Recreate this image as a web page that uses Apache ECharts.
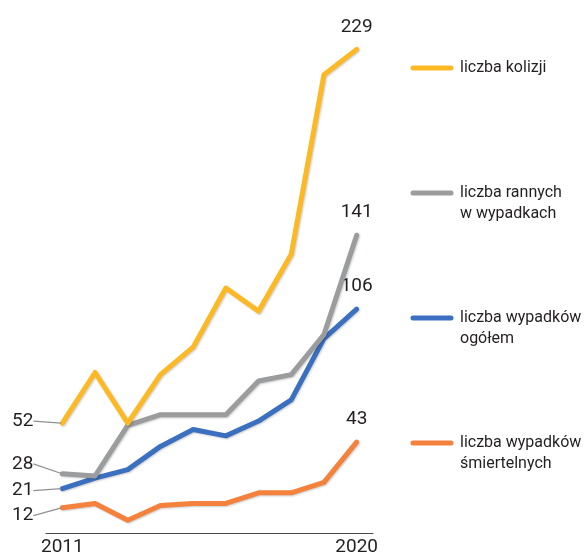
<!DOCTYPE html>
<html>
<head>
<meta charset="utf-8">
<script src="https://cdn.jsdelivr.net/npm/echarts@6/dist/echarts.min.js"></script>
<style>
  html, body { margin: 0; padding: 0; background: #fff; }
</style>
</head>
<body>
<div id="chart" style="width:588px;height:557px"></div>
<script>
  var FONT = 'Roboto, "Liberation Sans", sans-serif';

  var years = [2011, 2012, 2013, 2014, 2015, 2016, 2017, 2018, 2019, 2020];
  var kolizje = [52, 76, 52, 75, 88, 116, 105, 132, 217, 229];
  var ranni = [28, 27, 51, 56, 56, 56, 72, 75, 94, 141];
  var wypadki = [21, 26, 30, 41, 49, 46, 53, 63, 92, 106];
  var smiertelne = [12, 14, 6, 13, 14, 14, 19, 19, 24, 43];
  var names = ['liczba kolizji', 'liczba rannych\nw wypadkach', 'liczba wypadków\nogółem', 'liczba wypadków\nśmiertelnych'];
  var colors = ['#fdb924', '#9a9c9e', '#3b6fbf', '#f4813c'];
  var shownYears = [2011, 2020];

  var chart = echarts.init(document.getElementById('chart'));

  // vertical shift of the left labels relative to the first point
  var startShift = [-2, -10, 2, 8];

  function buildSeries(values, i) {
    var data = values.map(function (v, k) {
      var item = { value: [years[k], v] };
      if (k === 0) {
        item.label = { show: true, position: 'left' };
      } else if (k === values.length - 1) {
        item.label = { show: true, position: 'top', distance: 12, offset: [3, 0] };
        item.labelLine = { show: false };
      }
      return item;
    });
    return {
      name: names[i],
      type: 'line',
      data: data,
      symbol: 'circle',
      symbolSize: 2,
      z: 10 - i,
      itemStyle: { color: colors[i] },
      lineStyle: {
        width: 5, color: colors[i], cap: 'round', join: 'round',
        shadowColor: 'rgba(0,0,0,0.2)', shadowBlur: 2, shadowOffsetX: 1, shadowOffsetY: 1
      },
      label: {
        color: '#231f20', fontFamily: FONT, fontSize: 19,
        formatter: function (p) { return p.value[1]; }
      },
      labelLine: { show: true, lineStyle: { color: '#8e9092', width: 1.2 } },
      labelLayout: function (p) {
        if (p.dataIndex !== 0) return {};
        var px = p.rect.x + p.rect.width / 2;
        var py = p.rect.y + p.rect.height / 2;
        var lx = px - 29;
        var ly = py + startShift[i];
        return {
          x: lx, y: ly, align: 'right', verticalAlign: 'middle',
          labelLinePoints: [[lx + 3, ly - 3], [lx + 11, ly - 3], [px - 2, py]]
        };
      },
      emphasis: { disabled: true }
    };
  }

  var legendRows = [68, 193, 318, 443];
  var graphics = [];
  names.forEach(function (n, i) {
    graphics.push({
      type: 'line',
      shape: { x1: 413, y1: legendRows[i], x2: 451, y2: legendRows[i] },
      style: { stroke: colors[i], lineWidth: 5, lineCap: 'round' }
    });
    graphics.push({
      type: 'text',
      x: 460, y: legendRows[i] - 11,
      style: {
        text: n, fill: '#231f20', font: '16px ' + FONT, lineHeight: 21,
        verticalAlign: 'top'
      }
    });
  });

  chart.setOption({
    animation: false,
    grid: { left: 46, right: 215, top: 5, bottom: 19 },
    xAxis: {
      type: 'value',
      min: 2010.5,
      max: 2020.5,
      interval: 0.5,
      axisLine: { show: true, onZero: false, lineStyle: { color: '#4a4a4a', width: 1.2 } },
      axisTick: { show: false },
      splitLine: { show: false },
      axisLabel: {
        color: '#231f20', fontFamily: FONT, fontSize: 19, margin: 5,
        showMinLabel: true, showMaxLabel: true,
        formatter: function (v) { return shownYears.indexOf(v) >= 0 ? String(v) : ''; }
      }
    },
    yAxis: { type: 'value', min: 0, max: 250, show: false },
    series: [
      buildSeries(kolizje, 0),
      buildSeries(ranni, 1),
      buildSeries(wypadki, 2),
      buildSeries(smiertelne, 3)
    ],
    graphic: graphics
  });
</script>
</body>
</html>
